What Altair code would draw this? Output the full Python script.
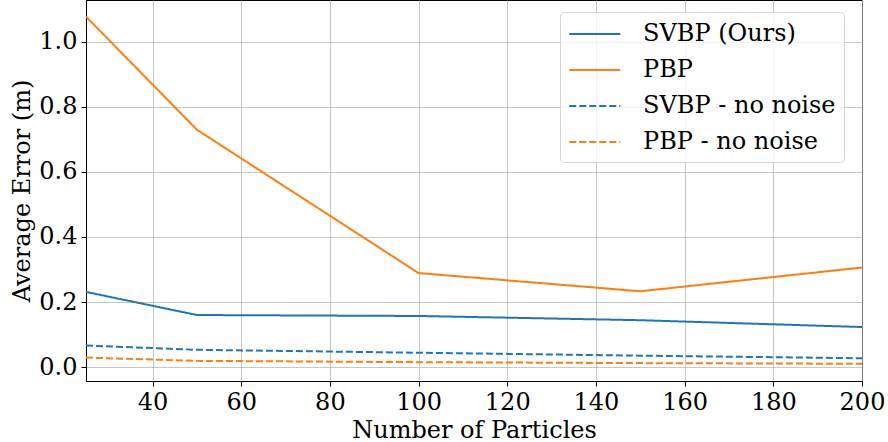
import altair as alt
import pandas as pd

particles = [25, 50, 100, 150, 200]
svbp = [0.231, 0.160, 0.157, 0.144, 0.123]
pbp = [1.078, 0.730, 0.289, 0.233, 0.306]
svbp_nn = [0.066, 0.053, 0.044, 0.035, 0.027]
pbp_nn = [0.029, 0.019, 0.015, 0.012, 0.010]

series_names = ["SVBP (Ours)", "PBP", "SVBP - no noise", "PBP - no noise"]
series_vals = [svbp, pbp, svbp_nn, pbp_nn]
colors = ["#1f77b4", "#ff7f0e", "#1f77b4", "#ff7f0e"]
dashes = [[1, 0], [1, 0], [7, 3], [7, 3]]

rows = []
for name, vals in zip(series_names, series_vals):
    for x, v in zip(particles, vals):
        rows.append({"Particles": x, "Error": v, "Series": name})
df = pd.DataFrame(rows)

FONT = "DejaVu Serif"

chart = alt.Chart(df).mark_line(strokeWidth=2, clip=True).encode(
    x=alt.X("Particles:Q",
            scale=alt.Scale(domain=[25, 200], nice=False, zero=False),
            axis=alt.Axis(title="Number of Particles", values=[40, 60, 80, 100, 120, 140, 160, 180, 200],
                          labelFlush=False)),
    y=alt.Y("Error:Q",
            scale=alt.Scale(domain=[-0.043, 1.129], nice=False, zero=False),
            axis=alt.Axis(title="Average Error (m)", values=[0.0, 0.2, 0.4, 0.6, 0.8, 1.0], format=".1f",
                          labelFlush=False)),
    color=alt.Color("Series:N",
                    scale=alt.Scale(domain=series_names, range=colors),
                    legend=alt.Legend(title=None, orient="none", legendX=474, legendY=12,
                                      symbolType="M-1,0H3", symbolSize=650, symbolStrokeWidth=2,
                                      labelFontSize=24, labelFont=FONT, labelColor="black",
                                      labelOffset=47, labelLimit=400, rowPadding=10, padding=8,
                                      strokeColor="#d5d5d5", fillColor="rgba(255,255,255,0.8)",
                                      cornerRadius=4)),
    strokeDash=alt.StrokeDash("Series:N",
                              scale=alt.Scale(domain=series_names, range=dashes),
                              legend=None),
).properties(
    width=776, height=381,
    padding={"left": 86, "top": 0, "right": 26, "bottom": 61},
    autosize="none",
).configure_view(
    stroke="black", strokeWidth=1
).configure_axis(
    labelFont=FONT, titleFont=FONT, labelFontSize=24, titleFontSize=24,
    labelColor="black", titleColor="black", titleFontWeight="normal",
    grid=True, gridColor="#b0b0b0", gridOpacity=0.7, gridWidth=1,
    tickColor="black", tickSize=5, domainColor="black", labelPadding=4,
)

chart.save("out.html", embed_options={"renderer": "svg", "actions": False})
